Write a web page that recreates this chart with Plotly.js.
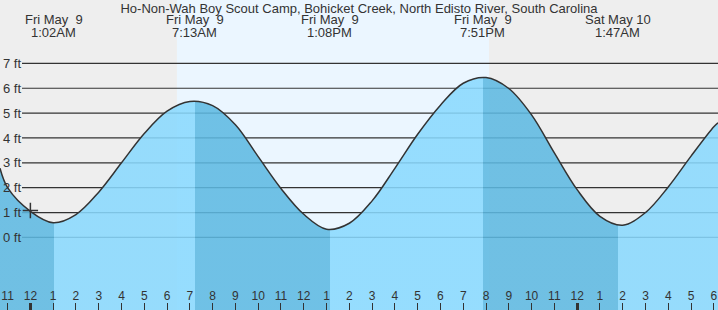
<!DOCTYPE html>
<html><head><meta charset="utf-8">
<script src="https://cdn.plot.ly/plotly-3.0.1.min.js"></script>
<style>html,body{margin:0;padding:0;background:#eeeeee;}#chart{width:718px;height:310px;}</style>
</head><body><div id="chart"></div>
<script>
const chartTitle = "Ho-Non-Wah Boy Scout Camp, Bohicket Creek, North Edisto River, South Carolina";

// tide height readings (ft) (hourly)
const tideTimes = [
  '2025-05-08 22:40','2025-05-08 23:00','2025-05-09 00:00','2025-05-09 01:00','2025-05-09 02:00',
  '2025-05-09 03:00','2025-05-09 04:00','2025-05-09 05:00','2025-05-09 06:00','2025-05-09 07:00',
  '2025-05-09 08:00','2025-05-09 09:00','2025-05-09 10:00','2025-05-09 11:00','2025-05-09 12:00',
  '2025-05-09 13:00','2025-05-09 14:00','2025-05-09 15:00','2025-05-09 16:00','2025-05-09 17:00',
  '2025-05-09 18:00','2025-05-09 19:00','2025-05-09 20:00','2025-05-09 21:00','2025-05-09 22:00',
  '2025-05-09 23:00','2025-05-10 00:00','2025-05-10 01:00','2025-05-10 02:00','2025-05-10 03:00',
  '2025-05-10 04:00','2025-05-10 05:00','2025-05-10 06:00','2025-05-10 06:11'
];
const tideHeights = [
  2.78, 2.0, 1.05, 0.59, 0.92,
  1.82, 3.0, 4.18, 5.08, 5.47,
  5.3, 4.53, 3.25, 1.97, 0.93,
  0.33, 0.57, 1.47, 2.78, 4.15,
  5.32, 6.2, 6.43, 5.99, 4.93,
  3.4, 1.92, 0.85, 0.49, 1.0,
  2.03, 3.27, 4.45, 4.61
];

// high / low tide events
const extremeTimes = ['2025-05-09 01:02','2025-05-09 07:13','2025-05-09 13:08','2025-05-09 19:51','2025-05-10 01:47'];
const extremeHeights = [0.59, 5.48, 0.32, 6.44, 0.47];
const extremeDays = ['Fri May\u00a0 9','Fri May\u00a0 9','Fri May\u00a0 9','Fri May\u00a0 9','Sat May 10'];
const extremeClocks = ['1:02AM','7:13AM','1:08PM','7:51PM','1:47AM'];

const sunTimes = ['2025-05-09 06:26','2025-05-09 20:08'];
const nowTime = ['2025-05-09 00:00'];
const nowHeight = [1.08];
const heightTicks = [0,1,2,3,4,5,6,7];
const heightLabels = ['0 ft','1 ft','2 ft','3 ft','4 ft','5 ft','6 ft','7 ft'];
const midnightTicks = ['2025-05-09 00:00','2025-05-10 00:00'];
const viewTimes = ['2025-05-08 22:40','2025-05-10 06:11'];
const heightRange = [-2.92, 9.55];

const FONT = 'Liberation Sans, Arial, sans-serif';
const TXT = '#333333';
const LIGHT = 'rgba(137,217,254,0.87)';
const DARK = 'rgba(93,185,226,0.87)';

const ms = s => Date.parse(s.replace(' ','T') + ':00Z');
const t0 = ms(viewTimes[0]), t1 = ms(viewTimes[1]);

// colour bands under the curve: falling tide dark, rising tide light
const cs = [];
let cur = extremeHeights[0] < extremeHeights[1] ? DARK : LIGHT;
cs.push([0, cur]);
extremeTimes.forEach((t, i) => {
  const f = (ms(t) - t0) / (t1 - t0);
  const isLow = (i + 1 < extremeHeights.length) ? extremeHeights[i] < extremeHeights[i+1] : extremeHeights[i] < extremeHeights[i-1];
  const next = isLow ? LIGHT : DARK;
  cs.push([f, cur]); cs.push([f, next]);
  cur = next;
});
cs.push([1, cur]);

const traces = [
  {x: viewTimes, y: [heightRange[0]-1, heightRange[0]-1], mode: 'lines', line: {width: 0}, hoverinfo: 'skip', showlegend: false},
  {x: tideTimes, y: tideHeights, mode: 'lines', line: {color: '#333333', width: 1.5, shape: 'spline', smoothing: 1},
   fill: 'tonexty', fillcolor: LIGHT,
   fillgradient: {type: 'horizontal', colorscale: cs, start: t0, stop: t1},
   showlegend: false},
  {x: nowTime, y: nowHeight, mode: 'markers', marker: {symbol: 'cross-thin', size: 11, line: {color: '#333333', width: 1.5}}, showlegend: false},
  {x: midnightTicks, y: [null, null], xaxis: 'x2', mode: 'markers', showlegend: false, hoverinfo: 'skip'}
];

const shapes = [
  {type: 'rect', xref: 'x', yref: 'paper', x0: sunTimes[0], x1: sunTimes[1], y0: 0, y1: 1,
   fillcolor: '#ebf6ff', line: {width: 0}, layer: 'below'}
];
heightTicks.forEach(h => shapes.push({type: 'line', xref: 'paper', yref: 'y', x0: 22/718, x1: 1, y0: h, y1: h,
  line: {color: '#333333', width: 1.2}, layer: 'below'}));

const annotations = [];
extremeTimes.forEach((t, i) => {
  annotations.push({x: t, xref: 'x', yref: 'paper', y: 1 - 20/310, yanchor: 'middle', xanchor: 'center', showarrow: false,
    text: extremeDays[i], font: {family: FONT, size: 13, color: TXT}});
  annotations.push({x: t, xref: 'x', yref: 'paper', y: 1 - 32/310, yanchor: 'middle', xanchor: 'center', showarrow: false,
    text: extremeClocks[i], font: {family: FONT, size: 13, color: TXT}});
});

const layout = {
  width: 718, height: 310,
  margin: {l: 0, r: 0, t: 0, b: 0, pad: 0},
  paper_bgcolor: '#eeeeee', plot_bgcolor: 'rgba(0,0,0,0)',
  title: {text: chartTitle, font: {family: FONT, size: 13, color: TXT}, x: 0.5, xanchor: 'center',
    y: 1 - 8/310, yanchor: 'middle', yref: 'container'},
  xaxis: {type: 'date', range: viewTimes, dtick: 3600000, tick0: '2025-05-09 00:00', tickformat: '%-I',
    ticks: 'inside', ticklen: 7, tickwidth: 1, tickcolor: '#333333', ticklabelposition: 'inside',
    ticklabeloverflow: 'allow',
    tickfont: {family: FONT, size: 12, color: TXT}, showgrid: false, zeroline: false, showline: false, fixedrange: true},
  xaxis2: {type: 'date', overlaying: 'x', matches: 'x', side: 'bottom', tickmode: 'array', tickvals: midnightTicks,
    ticks: 'inside', ticklen: 7, tickwidth: 3, tickcolor: '#333333', showticklabels: false,
    showgrid: false, zeroline: false, showline: false},
  yaxis: {range: heightRange, tickmode: 'array', tickvals: heightTicks, ticktext: heightLabels, ticks: '',
    ticklabelposition: 'inside', ticklabeloverflow: 'allow', tickfont: {family: FONT, size: 13, color: TXT},
    showgrid: false, zeroline: false, showline: false, fixedrange: true},
  shapes: shapes,
  annotations: annotations,
  showlegend: false
};

Plotly.newPlot('chart', traces, layout, {staticPlot: true, displayModeBar: false});
</script>
</body></html>
